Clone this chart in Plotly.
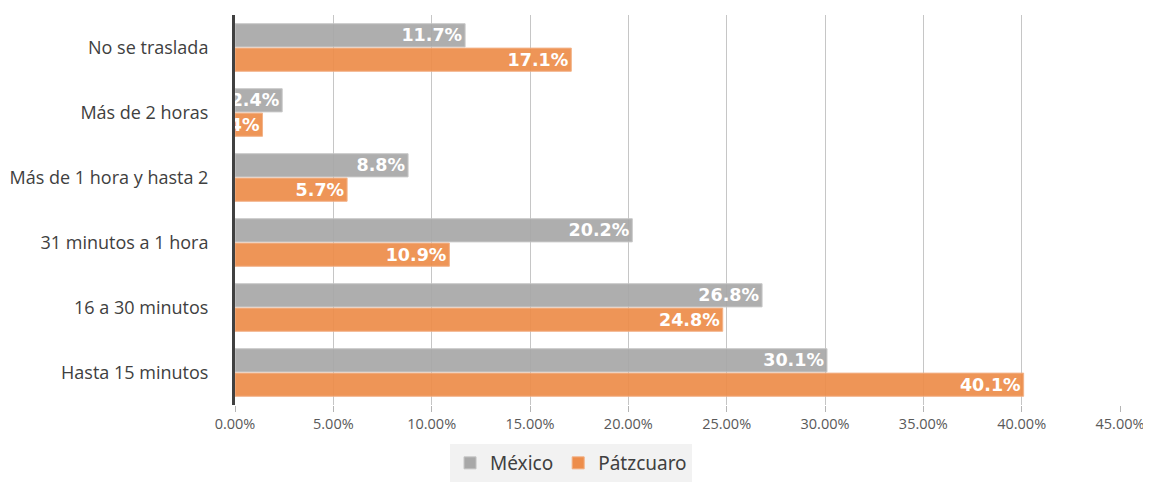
import plotly.graph_objects as go

categories = ["No se traslada", "Más de 2 horas", "Más de 1 hora y hasta 2",
              "31 minutos a 1 hora", "16 a 30 minutos", "Hasta 15 minutos"]
mexico = [11.7, 2.4, 8.8, 20.2, 26.8, 30.1]
patzcuaro = [17.1, 1.4, 5.7, 10.9, 24.8, 40.1]
x_ticks = [0, 5, 10, 15, 20, 25, 30, 35, 40, 45]
x_tick_labels = [f"{v:.2f}%" for v in x_ticks]

bar_text_font = dict(family="DejaVu Sans", size=17.5, color="white", weight="bold")

fig = go.Figure()
fig.add_trace(go.Bar(
    name="México", y=categories, x=mexico, orientation="h",
    marker=dict(color="#A8A8A8", opacity=0.93, line=dict(width=1, color="#C4C4C4")),
    text=[f"{v:.1f}%" for v in mexico], textposition="inside",
    insidetextanchor="end", constraintext="none",
    textfont=bar_text_font,
))
fig.add_trace(go.Bar(
    name="Pátzcuaro", y=categories, x=patzcuaro, orientation="h",
    marker=dict(color="#ED8D4B", opacity=0.93, line=dict(width=1, color="#F2AE80")),
    text=[f"{v:.1f}%" for v in patzcuaro], textposition="inside",
    insidetextanchor="end", constraintext="none",
    textfont=bar_text_font,
))

fig.update_layout(
    width=1143, height=474,
    margin=dict(l=227, r=31, t=7, b=77),
    paper_bgcolor="white", plot_bgcolor="white",
    barmode="group", bargap=0.25, bargroupgap=0.05,
    xaxis=dict(
        range=[0, 45], tickvals=x_ticks, ticktext=x_tick_labels,
        showgrid=True, gridcolor="#C6C6C6", gridwidth=1,
        ticks="outside", ticklen=6, tickcolor="#B5B5B5",
        tickfont=dict(family="Open Sans", size=14.5, color="#595959"),
        zeroline=False, showline=False, fixedrange=True, automargin=False,
    ),
    yaxis=dict(
        autorange="reversed", automargin=False,
        showline=True, linecolor="#404040", linewidth=3,
        ticks="", ticklabelstandoff=20,
        tickfont=dict(family="Open Sans", size=18, color="#404040"),
    ),
    legend=dict(
        orientation="h", xref="container", x=0.4926, xanchor="center",
        yref="container", y=0.0, yanchor="bottom",
        bgcolor="#F2F2F2", font=dict(family="Noto Sans", size=19, color="#404040"),
        traceorder="normal",
    ),
)

fig.write_html("out.html")
